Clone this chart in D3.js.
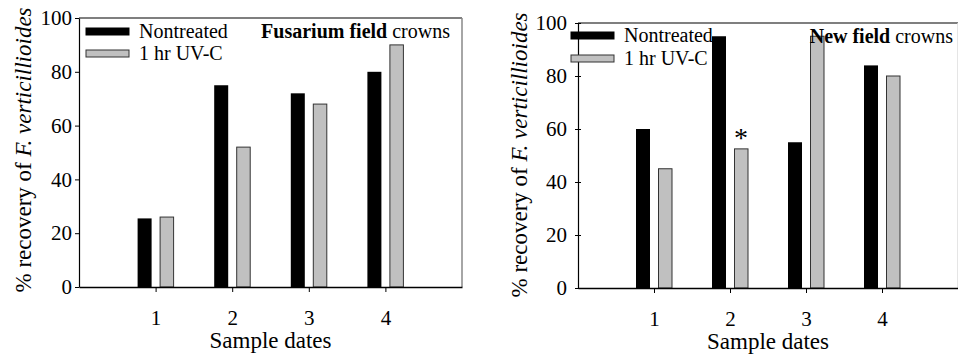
<!DOCTYPE html>
<html>
<head>
<meta charset="utf-8">
<script src="https://cdn.jsdelivr.net/npm/d3@7"></script>
<style>
  body { margin: 0; background: #fff; }
  svg { display: block; }
  svg text { font-family: "Liberation Serif", "Times New Roman", serif !important; fill: #000; }
</style>
</head>
<body>
<svg id="chart" width="958" height="360"></svg>
<script>
// data
var sampleDates = [1, 2, 3, 4]
var yTicks = [0, 20, 40, 60, 80, 100]
var fusariumNontreated = [25.5, 75, 72, 80]
var fusariumUVC = [26, 52, 68, 90]
var newNontreated = [60, 95, 55, 84]
var newUVC = [45, 52.5, 95, 80]
var legendLabels = ["Nontreated", "1 hr UV-C"]

var svg = d3.select("#chart")

function drawPanel (p) {
  var width = p.right - p.left
  var height = p.bottom - p.top

  // scales
  var xScale = d3.scaleLinear().domain([0, 5]).range([0, width])
  var yScale = d3.scaleLinear().domain([0, 100]).range([height, 0])

  var g = svg.append("g").attr("transform", "translate(" + p.left + "," + p.top + ")")

  // frame: top black, right grey
  g.append("line").attr("x1", 0).attr("x2", width).attr("y1", 0).attr("y2", 0)
    .attr("stroke", "#000").attr("stroke-width", 1.2)
  g.append("line").attr("x1", width).attr("x2", width).attr("y1", 0).attr("y2", height)
    .attr("stroke", p.rightColor).attr("stroke-width", 1.5)

  // bars
  var rows = sampleDates.map(function (d, i) { return {date: d, a: p.a[i], b: p.b[i]} })
  g.selectAll(".barA").data(rows).enter().append("rect")
    .attr("x", d => xScale(d.date) - 18)
    .attr("width", 14)
    .attr("y", d => yScale(d.a))
    .attr("height", d => height - yScale(d.a))
    .attr("fill", "#000")
  g.selectAll(".barB").data(rows).enter().append("rect")
    .attr("x", d => xScale(d.date) + 4.5)
    .attr("width", 13.5)
    .attr("y", d => yScale(d.b))
    .attr("height", d => height - yScale(d.b))
    .attr("fill", "#c0c0c0")
    .attr("stroke", "#333").attr("stroke-width", 1)

  // y axis
  var yAxis = g.append("g").call(d3.axisLeft(yScale).tickValues(yTicks).tickFormat(d3.format("d"))
    .tickSize(4).tickPadding(p.yPad).tickSizeOuter(0))
  yAxis.select(".domain").attr("stroke-width", 1.2)
  if (p.crossTicks) yAxis.selectAll(".tick line").attr("x1", 3).attr("x2", -3)
  yAxis.selectAll("text").attr("font-size", 21)

  // x axis
  var xAxis = g.append("g").attr("transform", "translate(0," + height + ")")
    .call(d3.axisBottom(xScale).tickValues(sampleDates).tickFormat(d3.format("d"))
      .tickSize(5).tickPadding(18).tickSizeOuter(0))
  xAxis.select(".domain").attr("stroke-width", 1.5)
  xAxis.selectAll("text").attr("font-size", 21)

  // axis titles
  g.append("text").attr("x", width / 2).attr("y", p.xTitleY - p.top)
    .attr("text-anchor", "middle").attr("font-size", 23).text("Sample dates")

  var yt = g.append("text")
    .attr("transform", "translate(" + (p.yTitleX - p.left) + "," + (p.yTitleMid - p.top) + ") rotate(-90)")
    .attr("text-anchor", "middle").attr("font-size", 23)
  yt.append("tspan").text("% recovery of ")
  yt.append("tspan").attr("font-style", "italic").text("F. verticillioides")

  // legend
  var lg = svg.append("g")
  var sw = [{fill: "#000", stroke: "#000"}, {fill: "#c0c0c0", stroke: "#333"}]
  legendLabels.forEach(function (lab, i) {
    lg.append("rect").attr("x", p.legX).attr("y", p.legY[i]).attr("width", 43).attr("height", 7)
      .attr("fill", sw[i].fill).attr("stroke", sw[i].stroke)
    lg.append("text").attr("x", p.legX + 53).attr("y", p.legY[i] + 10).attr("font-size", 20).text(lab)
  })

  // panel title
  var tt = svg.append("text").attr("x", p.titleX).attr("y", p.titleY).attr("text-anchor", "end").attr("font-size", 20)
  tt.append("tspan").attr("font-weight", "bold").text(p.titleBold)
  tt.append("tspan").text(" crowns")

  return {g: g, xScale: xScale, yScale: yScale}
}

drawPanel({
  left: 79, right: 462, top: 18, bottom: 287,
  a: fusariumNontreated, b: fusariumUVC,
  rightColor: "#888", crossTicks: false, yPad: 3,
  xTitleY: 348, yTitleX: 31, yTitleMid: 150,
  legX: 86, legY: [28, 50],
  titleX: 450, titleY: 38, titleBold: "Fusarium field"
})

var right = drawPanel({
  left: 578, right: 958, top: 23, bottom: 288,
  a: newNontreated, b: newUVC,
  rightColor: "#ddd", crossTicks: true, yPad: 7,
  xTitleY: 349, yTitleX: 527, yTitleMid: 155,
  legX: 571, legY: [32, 55],
  titleX: 953, titleY: 43, titleBold: "New field"
})

// significance mark on date 2, UV-C
right.g.append("text")
  .attr("x", right.xScale(2) + 11)
  .attr("y", right.yScale(newUVC[1]) - 2)
  .attr("text-anchor", "middle").attr("font-size", 28).text("*")
</script>
</body>
</html>
